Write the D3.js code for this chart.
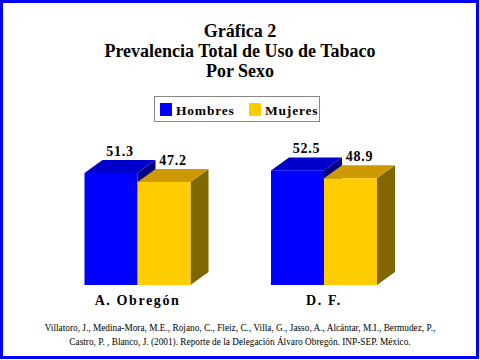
<!DOCTYPE html>
<html><head><meta charset="utf-8">
<script src="https://cdnjs.cloudflare.com/ajax/libs/d3/7.8.5/d3.min.js"></script>
<style>html,body{margin:0;padding:0;background:#fff;}svg{display:block;}</style>
</head><body>
<svg id="c" width="480" height="360"></svg>
<script>
const categories = ["A. Obregón", "D. F."];
const seriesNames = ["Hombres", "Mujeres"];
const hombres = [51.3, 52.5];
const mujeres = [47.2, 48.9];
const titleLines = ["Gráfica 2", "Prevalencia Total de Uso de Tabaco", "Por Sexo"];
const footnoteLines = [
  "Villatoro, J., Medina-Mora, M.E., Rojano, C., Fleiz, C., Villa, G., Jasso, A., Alcántar, M.I., Bermudez, P.,",
  "Castro, P. , Blanco, J. (2001). Reporte de la Delegación Álvaro Obregón. INP-SEP. México."
];

const svg = d3.select("#c");
const W = 480, H = 360;
const serif = "\"Liberation Serif\"";

// border
svg.append("rect").attr("x", 1.5).attr("y", 1.5).attr("width", W - 4).attr("height", H - 4)
  .attr("fill", "#fff").attr("stroke", "#0000ff").attr("stroke-width", 3);

// title
svg.append("g").selectAll("text").data(titleLines).join("text")
  .attr("x", 240).attr("y", (d, i) => 37 + i * 20)
  .attr("text-anchor", "middle").style("font-family", serif)
  .attr("font-weight", "bold").attr("font-size", 18).attr("fill", "#000")
  .text(d => d);

// legend
const leg = svg.append("g");
leg.append("rect").attr("x", 154.5).attr("y", 96.5).attr("width", 165).attr("height", 25)
  .attr("fill", "#fff").attr("stroke", "#888").attr("stroke-width", 1);
const colors = {Hombres: {front: "#0000ff", top: "#0000cc", side: "#000080"},
                Mujeres: {front: "#ffcc00", top: "#cc9900", side: "#806600"}};
const legX = [160, 249];
seriesNames.forEach((s, i) => {
  leg.append("rect").attr("x", legX[i]).attr("y", 103).attr("width", 12).attr("height", 13)
    .attr("fill", colors[s].front);
  leg.append("text").attr("x", legX[i] + 16).attr("y", 115)
    .style("font-family", serif).attr("font-weight", "bold").attr("font-size", 13.5)
    .attr("letter-spacing", 0.8).text(s);
});

// scales
const y = d3.scaleLinear().domain([0, 60]).range([285, 154]);
const x = d3.scaleBand().domain(categories).range([84.5, 377]).paddingInner(0.4316).paddingOuter(0);
const xs = d3.scaleBand().domain(seriesNames).range([0, x.bandwidth()]);
const dx = 18, dy = 13;

const data = categories.map((c, i) => ({cat: c, vals: [
  {s: "Hombres", v: hombres[i]}, {s: "Mujeres", v: mujeres[i]}]}));

const bars = svg.append("g");
data.forEach(g => {
  g.vals.forEach(b => {
    const x0 = x(g.cat) + xs(b.s), x1 = x0 + xs.bandwidth();
    const yt = y(b.v), yb = y(0);
    const c = colors[b.s];
    bars.append("polygon")
      .attr("points", [[x1, yt], [x1 + dx, yt - dy], [x1 + dx, yb - dy], [x1, yb]].join(" "))
      .attr("fill", c.side);
    bars.append("polygon")
      .attr("points", [[x0, yt], [x0 + dx, yt - dy], [x1 + dx, yt - dy], [x1, yt]].join(" "))
      .attr("fill", c.top);
    bars.append("rect").attr("x", x0).attr("y", yt).attr("width", x1 - x0).attr("height", yb - yt)
      .attr("fill", c.front);
    bars.append("text").attr("x", (x0 + x1) / 2 + dx / 2).attr("y", yt - dy - 4)
      .attr("text-anchor", "middle").style("font-family", serif).attr("font-weight", "bold")
      .attr("font-size", 14).attr("letter-spacing", 0.8).text(b.v.toFixed(1));
  });
});

// category labels
svg.append("g").selectAll("text").data(categories).join("text")
  .attr("x", d => x(d) + x.bandwidth() / 2).attr("y", 305)
  .attr("text-anchor", "middle").style("font-family", serif).attr("font-weight", "bold")
  .attr("font-size", 14).attr("letter-spacing", 1.6).text(d => d);

// footnote
svg.append("g").selectAll("text").data(footnoteLines).join("text")
  .attr("x", 240).attr("y", (d, i) => 331 + i * 14)
  .attr("text-anchor", "middle").style("font-family", serif)
  .attr("font-size", 9.3).attr("fill", "#000").text(d => d);
</script>
</body></html>
